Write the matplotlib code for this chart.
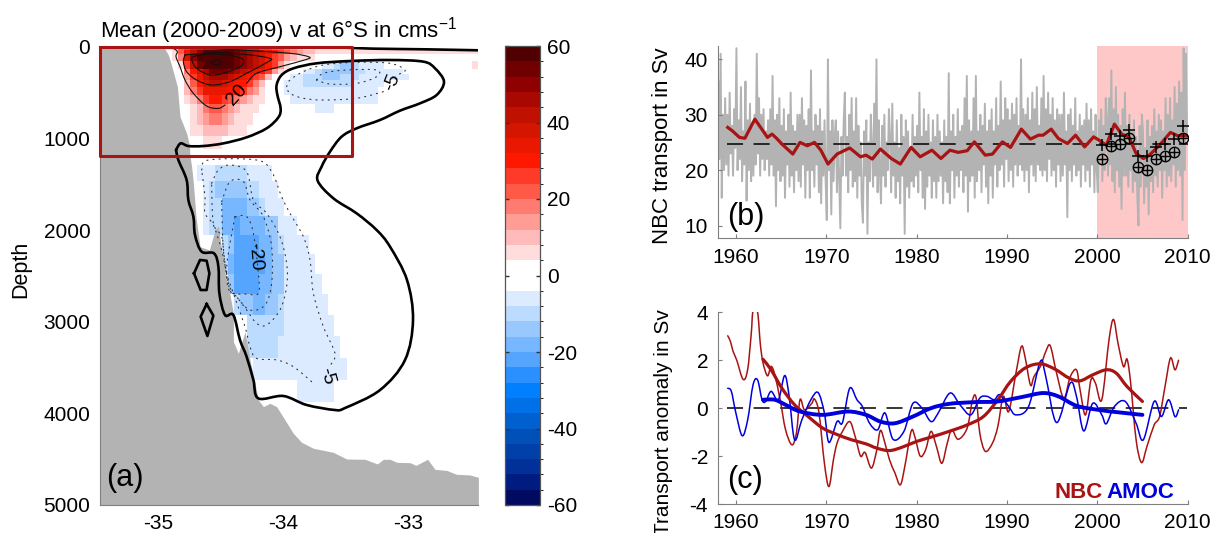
import numpy as np
import matplotlib
matplotlib.use('Agg')
import matplotlib.pyplot as plt
from matplotlib.colors import ListedColormap, BoundaryNorm
from matplotlib.path import Path
from matplotlib.patches import PathPatch

plt.rcParams['font.family'] = ['Liberation Sans', 'DejaVu Sans']
plt.rcParams['mathtext.fontset'] = 'custom'
plt.rcParams['mathtext.rm'] = 'Liberation Sans'
plt.rcParams['mathtext.default'] = 'regular'
plt.rcParams['font.size'] = 15
plt.rcParams['axes.unicode_minus'] = False

W, H = 1215, 533
RED = '#a81414'
BLUE = '#0000dd'
GRAY = '#b3b3b3'
SPINE = '#7f7f7f'

# ---- panel a: section, 1/20 degree columns, model depth levels
lon_start = -34.945
lon_step = 0.05
n_cols = 52
depth_edges = [0, 35, 80, 150, 245, 300, 365, 440, 520, 620, 725, 850, 975, 1115, 1290, 1460, 1645,
               1840, 2050, 2260, 2480, 2700, 2930, 3160, 3400, 3640, 3880]

# (row, first column, values)
red_rows = [
    (0, 0, [6, 10, 20, 26, 30, 34, 38, 38, 38, 38, 36, 34, 34, 30, 30, 26, 26, 22, 20, 18, 14, 10, 6, 6, 6, 6, 6, 6, 6, 6]),
    (1, 1, [6, 22, 34, 42, 50, 56, 58, 58, 58, 56, 52, 50, 46, 42, 38, 34, 30, 26, 22, 18, 14, 10, 10] + [6] * 26),
    (2, 1, [6, 18, 38, 50, 58, 58, 58, 58, 58, 58, 54, 50, 46, 42, 36, 30, 26, 22, 14, 10, 6, 6, 6]),
    (3, 2, [6, 26, 42, 52, 58, 58, 58, 58, 58, 54, 50, 46, 42, 38, 30, 24, 14, 6]),
    (4, 3, [18, 30, 38, 46, 52, 54, 54, 50, 46, 42, 38, 34, 30, 26, 14, 6]),
    (5, 3, [14, 26, 34, 40, 46, 46, 44, 40, 36, 32, 30, 26, 22, 10]),
    (6, 3, [10, 22, 30, 36, 40, 40, 38, 34, 30, 28, 26, 18, 10]),
    (7, 3, [10, 18, 26, 32, 34, 34, 32, 30, 28, 24, 18, 14, 6]),
    (8, 3, [6, 10, 18, 26, 30, 30, 26, 22, 18, 14, 10, 6, 6]),
    (9, 4, [6, 10, 16, 22, 22, 18, 14, 10, 6, 6, 6]),
    (10, 4, [6, 10, 14, 18, 18, 14, 10, 6, 6, 6]),
    (11, 4, [6, 6, 10, 10, 10, 10, 6, 6, 6]),
    (12, 6, [6, 6, 6]),
    (3, 49, [6]),
]
blue_rows = [
    (3, 25, [-6, -6, -10, -14, -14, -10, -6, -6, -6, -6]),
    (4, 22, [-6, -6, -10, -14, -14, -14, -14, -14, -10, -10, -6, -6, -6, -6, -6, -6]),
    (5, 20, [-6, -6, -10, -10, -10, -14, -14, -14, -10, -10, -10, -6, -6, -6, -6, -6, -6, -6, -6]),
    (6, 19, [-6, -6, -6, -10, -10, -10, -10, -10, -10, -10, -10, -6, -6, -6, -6, -6]),
    (7, 19, [-6] * 15),
    (8, 20, [-6] * 14),
    (9, 24, [-6, -6, -6]),
    (14, 5, [-6, -6, -6, -10, -10, -10, -10, -10, -6, -6, -6, -6]),
    (15, 6, [-6, -10, -14, -14, -14, -14, -14, -10, -10, -6, -6, -6]),
    (16, 6, [-6, -10, -10, -18, -18, -18, -18, -14, -14, -10, -6, -6, -6]),
    (17, 6, [-6, -10, -10, -18, -18, -22, -18, -18, -18, -18, -14, -14, -6, -6, -6]),
    (18, 9, [-10, -14, -22, -22, -22, -22, -18, -18, -14, -10, -6, -6, -6, -6]),
    (19, 9, [-10, -18, -22, -22, -22, -22, -22, -18, -14, -14, -6, -6, -6, -6, -6]),
    (20, 10, [-14, -22, -22, -22, -22, -18, -18, -14, -14, -6, -6, -6, -6, -6, -6]),
    (21, 11, [-10, -14, -14, -18, -18, -14, -14, -10, -6, -6, -6, -6, -6, -6, -6]),
    (22, 13, [-10, -10, -10, -10, -10, -10, -6, -6, -6, -6, -6, -6, -6, -6]),
    (23, 13, [-10, -10, -10, -10, -10, -6, -6, -6, -6, -6, -6, -6, -6, -6, -6]),
    (24, 14, [-6] * 15),
    (25, 21, [-6] * 6),
]
level_colors = ['#000a60', '#001c80', '#003098', '#0040a8', '#0050b8', '#0060d0', '#0070e8', '#007fff',
                '#2a90ff', '#55a5ff', '#77b7ff', '#99c8ff', '#bbdbff', '#dcebff', '#ffffff',
                '#ffffff', '#ffdddd', '#ffbbbb', '#ff9c94', '#ff7a70', '#ff5a48', '#ff3a28', '#ff1800',
                '#ea1800', '#d41500', '#c01000', '#a80800', '#8f0000', '#700000', '#500000']

# bottom topography
bathy_lon = [-34.956, -34.921, -34.9, -34.849, -34.828, -34.775, -34.753, -34.748, -34.735, -34.721, -34.7, -34.668,
             -34.593, -34.548, -34.521, -34.495, -34.468, -34.428, -34.401, -34.401, -34.361, -34.308, -34.268, -34.228,
             -34.201, -34.161, -34.108, -34.055, -33.988, -33.921, -33.855, -33.761, -33.601, -33.495, -33.348, -33.249,
             -33.201, -33.148, -33.095, -32.988, -32.94, -32.847, -32.788, -32.695, -32.615, -32.508, -32.441]
bathy_depth = [4, 87, 178, 433, 760, 942, 1070, 1190, 1306, 1488, 1852, 2180, 2216, 1998, 1954, 2216, 2471, 2707, 2908,
               3217, 3344, 3108, 3417, 3672, 3854, 3926, 3890, 3926, 4072, 4218, 4316, 4381, 4425, 4498, 4501, 4552,
               4501, 4501, 4534, 4538, 4567, 4501, 4611, 4622, 4665, 4672, 4698]

# zero contour
zero_lon = [-34.86, -34.823, -34.761, -34.641, -34.481, -34.295, -34.135, -34.041, -34.023, -34.049, -34.055, -34.015,
            -33.921, -33.735, -33.468, -33.148, -32.881, -32.788, -32.716, -32.775, -32.908, -33.068, -33.228, -33.415,
            -33.535, -33.628, -33.695, -33.727, -33.601, -33.415, -33.255, -33.148, -33.012, -32.964, -33.028, -33.228,
            -33.508, -33.588, -33.815, -34.001, -34.201, -34.241, -34.295, -34.348, -34.401, -34.468, -34.513, -34.521,
            -34.556, -34.655, -34.708, -34.721, -34.761, -34.775, -34.841, -34.86]
zero_depth = [1124, 1052, 1081, 1081, 1052, 986, 888, 768, 670, 524, 415, 306, 233, 178, 153, 142, 160, 233, 378, 524,
              615, 695, 797, 888, 979, 1143, 1306, 1459, 1652, 1816, 1998, 2180, 2544, 2980, 3417, 3745, 3941, 3963,
              3908, 3810, 3836, 3635, 3381, 3199, 2926, 2926, 2689, 2398, 2253, 2234, 2052, 1852, 1670, 1452, 1234, 1124]
surface_lon = [-32.441, -32.881, -33.281, -33.681, -34.881]
surface_depth = [36, 25, 18, 4, 4]
island1_lon = [-34.716, -34.668, -34.615, -34.593, -34.615, -34.663, -34.716]
island1_depth = [2471, 2325, 2333, 2471, 2653, 2653, 2471]
island2_lon = [-34.615, -34.561, -34.609, -34.663, -34.615]
island2_depth = [2806, 2933, 3155, 2944, 2806]

# positive contours, 20 / 30 / 40 / 50
c20a_lon = [-34.881, -34.849, -34.86, -34.828, -34.788, -34.721, -34.615, -34.521, -34.468]
c20a_depth = [14, 51, 106, 215, 360, 506, 644, 670, 633]
c20b_lon = [-34.295, -34.215, -34.028, -33.815, -33.801, -33.948, -34.348, -34.748, -34.881]
c20b_depth = [397, 287, 215, 135, 106, 69, 33, 7, 14]
c30_lon = [-34.788, -34.801, -34.775, -34.695, -34.575, -34.428, -34.295, -34.121, -34.108, -34.268, -34.535, -34.788]
c30_depth = [87, 160, 269, 360, 415, 378, 287, 160, 124, 87, 62, 87]
c40_lon = [-34.735, -34.695, -34.588, -34.481, -34.348, -34.321, -34.401, -34.588, -34.721, -34.735]
c40_depth = [142, 233, 306, 287, 215, 142, 98, 76, 106, 142]
c50_lon = [-34.583, -34.54, -34.495, -34.54, -34.583]
c50_depth = [167, 142, 167, 196, 167]

# negative contours, dotted
m5up_lon = [-33.975, -33.948, -33.841, -33.681, -33.415, -33.148, -33.028, -33.081]
m5up_depth = [433, 360, 269, 196, 167, 178, 251, 300]
m5up2_lon = [-33.201, -33.415, -33.681, -33.841, -33.948, -33.975]
m5up2_depth = [488, 560, 579, 560, 506, 433]
m10up_lon = [-33.735, -33.681, -33.495, -33.255, -33.255, -33.415, -33.628, -33.735]
m10up_depth = [360, 287, 251, 251, 324, 397, 404, 360]
m5low_lon = [-34.655, -34.601, -34.215, -34.095, -34.015, -33.948, -33.841, -33.788, -33.761, -33.681, -33.588, -33.623]
m5low_depth = [1343, 1234, 1234, 1361, 1634, 1816, 2071, 2325, 2689, 3053, 3344, 3470]
m5low2_lon = [-33.775, -33.921, -34.055, -34.215, -34.268, -34.308, -34.401, -34.455, -34.495, -34.561, -34.628, -34.628, -34.655]
m5low2_depth = [3654, 3490, 3417, 3399, 3272, 3053, 2689, 2471, 2216, 1943, 1816, 1634, 1343]
m10low_lon = [-34.575, -34.521, -34.428, -34.295, -34.241, -34.135, -34.028, -33.975, -33.975, -34.028, -34.135, -34.215,
              -34.295, -34.375, -34.428, -34.468, -34.495, -34.561, -34.575]
m10low_depth = [1488, 1343, 1288, 1361, 1670, 1816, 2071, 2362, 2616, 2871, 3035, 3017, 2871, 2726, 2653, 2362, 2071, 1925, 1488]
m15low_lon = [-34.495, -34.428, -34.321, -34.268, -34.161, -34.095, -34.095, -34.148, -34.268, -34.375, -34.441, -34.481, -34.495]
m15low_depth = [1689, 1470, 1470, 1670, 1852, 2180, 2580, 2817, 2871, 2726, 2580, 2216, 1689]
m20low_lon = [-34.388, -34.295, -34.241, -34.201, -34.201, -34.295, -34.428, -34.455, -34.428, -34.388]
m20low_depth = [1852, 1852, 2034, 2471, 2689, 2697, 2671, 2435, 2143, 1852]

# ---- panel b: eight readings per year, 1958-2009
nbc_raw = [
    36, 22, 41, 15, 30, 20, 33, 21,
    30, 19, 34, 23, 28, 19, 31, 24,
    42, 20, 29, 22, 35, 18, 27, 21,
    36, 14.5, 29, 20, 32, 18, 28, 19,
    30, 21, 41, 23, 33, 19, 30, 22,
    31, 20, 27, 22, 29, 19, 31, 21,
    37, 19, 29, 13.5, 30, 20, 33, 18,
    28, 19, 31, 15, 27, 21, 30, 17,
    34, 19, 28, 16, 27, 20, 30, 18,
    30, 17, 33, 21, 29, 15, 28, 20,
    31, 15, 38, 20, 27, 17, 30, 21,
    28, 16, 31, 14, 27, 19, 29, 18,
    11, 40, 20, 27, 12, 29, 18, 26,
    29, 16, 27, 18, 9.5, 26, 19, 29,
    34, 19, 26, 16, 30, 20, 33, 17,
    27, 18, 33, 15, 28, 19, 25, 14,
    10.5, 27, 19, 29, 8.5, 25, 18, 30,
    24, 17, 32, 19, 40, 16, 29, 20,
    14, 28, 19, 30, 17, 25, 20, 31,
    26, 16, 32, 19, 25, 15, 29, 18,
    24, 14, 30, 19, 26, 8.5, 29, 17,
    27, 15, 24, 18, 30, 17, 26, 19,
    28, 16, 34, 20, 26, 15, 31, 13,
    27, 17, 30, 19, 25, 15, 29, 18,
    26, 15, 30, 18, 27, 19, 25, 14,
    29, 18, 26, 16, 37.5, 14, 27, 20,
    30, 15, 26, 19, 31, 17, 27, 20,
    28, 16, 33, 19, 37, 12.5, 29, 18,
    27, 19, 33, 15, 37, 18, 27, 20,
    30, 16, 28, 21, 32, 17, 27, 14,
    29, 19, 31, 15, 27, 21, 33, 17,
    28, 20, 36, 21, 29, 17, 33, 22,
    31, 18, 29, 20, 32, 17, 30, 21,
    33, 19, 28, 21, 40, 20, 31, 18,
    30, 20, 33, 16, 29, 21, 34, 19,
    31, 18, 35, 21, 28, 20, 33, 19,
    37, 20, 31, 18, 34, 22, 30, 19,
    33, 20, 29, 17, 31, 21, 30, 18,
    30, 19, 34, 21, 27, 11.5, 30, 20,
    31, 18, 28, 21, 33, 19, 27, 20,
    30, 17, 28, 21, 29, 18, 32, 20,
    29, 17, 31, 21, 27, 16, 30, 20,
    16, 29, 21, 31, 18, 28, 20, 33,
    29, 19, 33, 21, 38, 18, 31, 16,
    35, 20, 30, 17, 28, 13, 31, 19,
    34, 19, 28, 17, 30, 20, 27, 16,
    29, 18, 26, 15, 10, 28, 17, 30,
    27, 14, 24, 17, 29, 12, 26, 18,
    28, 16, 31, 19, 27, 17, 30, 20,
    29, 15, 27, 20, 33, 17, 30, 19,
    33, 18, 29, 21, 35, 17, 32, 20,
    36, 19, 34, 11, 42, 20, 41, 26,
]
raw_years = np.arange(1958, 2010, 0.125) + 0.0625

smooth_years = [1959.1, 1959.6, 1960.4, 1961, 1962.1, 1963.5, 1964, 1964.5, 1965.1, 1966.3, 1967.1, 1967.9, 1968.7, 1969.4,
                1970.2, 1971.2, 1972.6, 1973.8, 1974.4, 1975.1, 1976, 1977.2, 1978.2, 1979.4, 1980.4, 1981.7, 1982.7, 1983.7,
                1984.6, 1985.6, 1986.4, 1987.6, 1988.4, 1989.5, 1990.4, 1991.6, 1992.6, 1993.5, 1994, 1994.9, 1995.7, 1996.7,
                1997.6, 1998.6, 1999.6, 2000.2, 2001, 2001.9, 2002.7, 2003.5, 2004.3, 2005.1, 2005.7, 2006.9, 2008.1, 2008.9, 2010]
smooth_nbc = [27.7, 27.1, 25.9, 25.75, 29.2, 25.9, 26.5, 25.75, 24.7, 22.9, 25, 24.4, 25, 23.6,
              21.1, 22.9, 24, 22.4, 22.7, 22, 23.8, 22.1, 21.1, 24.1, 22.4, 23.6, 22.1, 23.6,
              23.2, 23.5, 25.1, 22.7, 22.9, 25.1, 24.1, 27.4, 25.6, 26.3, 26.3, 27.4, 25.7, 24.8,
              26.3, 24.2, 26, 25.4, 24.5, 28.3, 26.5, 26, 23, 22.1, 22.6, 24.5, 26.8, 26.2, 26.2]
nbc_mean = 24.7

cruise_years = [2000.5, 2001.5, 2002.5, 2003.5, 2004.5, 2005.5, 2006.5, 2007.5, 2008.5, 2009.5]
nbc_circle = [21.96, 24.4, 24.7, 25.75, 20.5, 20, 22, 22.6, 23.3, 25.75]
nbc_plus = [24.55, 26.5, 26.2, 27.25, 22.6, 22.6, 24.1, 24.7, 25.6, 28]

# ---- panel c: anomalies
nbc_yr = [1959.1, 1959.4, 1959.7, 1960.1, 1960.8, 1961.3, 1961.7, 1961.9, 1962.4, 1962.7, 1963, 1963.5, 1963.9, 1964.3, 1964.9,
          1965.5, 1966.2, 1966.7, 1967.1, 1967.6, 1968.4, 1968.7, 1969.2, 1969.8, 1970.3, 1970.8, 1971.2, 1971.8, 1972.6, 1973.2,
          1973.8, 1974.3, 1975, 1975.6, 1976, 1976.5, 1977, 1977.6, 1978.2, 1978.7, 1979.4, 1979.8, 1980.4, 1981, 1981.6, 1982.2,
          1982.8, 1983.4, 1983.9, 1984.6, 1985.6, 1986.2, 1986.6, 1987, 1987.6, 1988.4, 1989, 1989.6, 1990.2, 1991, 1991.6, 1992,
          1992.6, 1993, 1993.7, 1994.3, 1994.8, 1995.5, 1996.3, 1997, 1997.7, 1998.1, 1998.7, 1999.3, 1999.8, 2000.5, 2001.3, 2001.8,
          2002.3, 2002.9, 2003.3, 2003.7, 2004.3, 2004.9, 2005.5, 2006.3, 2006.9, 2007.5, 2008.1, 2008.6, 2009]
nbc_anom = [3.02, 2.78, 2.36, 2.0, 1.2, 1.6, 3.1, 4.05, 4.0, 2.7, 1.9, 1.35, 1.74, 1.4, 0.35,
            -0.9, -1.53, -1.04, 0.35, -0.07, 0.2, 0.38, -0.2, -2.3, -3.27, -2.15, -1.46, -0.97, -0.56, -1.18,
            -2.0, -1.85, -2.5, -1.74, -0.93, -1.46, -2.15, -2.7, -3.2, -2.43, -0.97, -1.18, -2, -1.74, -0.97, -1.6,
            -2.3, -1.46, -0.9, -1.3, -0.83, 0.35, 0.42, -1.04, -1.8, -1.46, -0.76, 0.49, -0.14, 1.46, 2.57, 2.15,
            0.97, 1.32, 1.74, 2.36, 2.6, 1.46, 0.42, 1.3, 1.6, 0.76, -0.28, 1.18, 1.04, 0.35, 2.85, 3.7,
            2.7, 1.74, 2.04, 1.04, -1.32, -2.27, -1.6, -0.7, -0.35, 0.9, 2.09, 1.6, 2.0]

amoc_yr = [1959.1, 1959.5, 1960, 1960.7, 1961.3, 1961.9, 1962.4, 1962.9, 1963.3, 1963.9, 1964.7, 1965.4, 1965.9, 1966.5, 1967.3,
           1968.3, 1969.1, 1969.8, 1970.3, 1971.2, 1971.8, 1972.6, 1973.4, 1974, 1974.8, 1975.7, 1976.5, 1977.4, 1978.6, 1979.6,
           1980.6, 1981.6, 1982.4, 1983.7, 1984.8, 1986, 1987, 1987.8, 1988.6, 1989.2, 1990.2, 1991, 1992.4, 1993.7, 1994.3, 1995.5,
           1997, 1997.7, 1998.5, 1999.5, 2000.5, 2001, 2001.9, 2003.1, 2004.3, 2005.1, 2006.3, 2007.1, 2007.9, 2008.6, 2009]
amoc_anom = [0.83, 0.7, -0.2, -1.15, -0.5, 0.97, 1.18, 0.35, 0.28, 0.7, 0.35, 1.36, 0.49, -1.32, -0.49,
             0.35, 0.65, -0.2, -1.43, -0.56, -0.6, 0.83, 0.35, 0.07, -0.63, -0.9, -0.2, -1.3, -0.97, 0.2,
             0, -0.56, -0.2, 0.63, 0.14, -0.28, 0.42, 0.49, 0.35, 0.56, 0.07, -0.28, 0.07, 1.95, 1.32, -0.6,
             1.04, 0.49, -0.95, 0.2, -0.28, -0.65, 0.07, 0.28, -0.63, -1.32, 0.28, -0.35, 0.35, -0.35, -0.07]

nbc_slow_yr = [1963, 1963.9, 1965.1, 1966.5, 1968, 1969.6, 1971.2, 1972.8, 1974.4, 1975.6, 1977, 1978.4, 1980, 1981.6, 1983.6,
               1985.6, 1987.4, 1989, 1990.4, 1992, 1993.7, 1995.3, 1996.9, 1998.1, 1999.5, 2001, 2002.1, 2003.3, 2005]
nbc_slow = [2.04, 1.6, 0.83, 0.14, -0.35, -0.83, -1.1, -1.32, -1.49, -1.67, -1.77, -1.63, -1.39, -1.21, -0.97,
            -0.7, -0.35, 0.35, 1.11, 1.67, 1.85, 1.63, 1.25, 1.14, 1.39, 1.6, 1.46, 0.9, 0.28]
amoc_slow_yr = [1963, 1964.3, 1965.5, 1967.1, 1969.6, 1972.4, 1974.4, 1976, 1977.6, 1979.6, 1981.6, 1983.6, 1986.4, 1989,
                1991.6, 1994, 1995.7, 1997.7, 2000.1, 2002.5, 2005]
amoc_slow = [0.35, 0.35, 0.14, -0.14, -0.28, -0.14, -0.28, -0.56, -0.63, -0.35, 0, 0.18, 0.25, 0.28,
             0.46, 0.63, 0.49, 0.1, -0.07, -0.18, -0.28]


def add_axes_px(fig, left, top, right, bottom):
    return fig.add_axes([left / W, 1 - bottom / H, (right - left) / W, (bottom - top) / H])


def clean_spines(ax):
    ax.spines['top'].set_visible(False)
    ax.spines['right'].set_visible(False)
    ax.spines['left'].set_color(SPINE)
    ax.spines['bottom'].set_color(SPINE)


def curve(ax, x, y, **kw):
    # bezier through the read points, so the filtered lines are not angular
    p = np.column_stack([x, y])
    q = np.vstack([p[0], p, p[-1]])
    verts = [p[0]]
    for i in range(1, len(q) - 2):
        verts += [q[i] + (q[i + 1] - q[i - 1]) / 6, q[i + 1] - (q[i + 2] - q[i]) / 6, q[i + 1]]
    codes = [Path.MOVETO] + [Path.CURVE4] * (len(verts) - 1)
    ax.add_patch(PathPatch(Path(verts, codes), fill=False, capstyle='round', **kw))


fig = plt.figure(figsize=(W / 100, H / 100), dpi=100)

# panel a
ax = add_axes_px(fig, 100, 47, 478, 505)
field = np.full((len(depth_edges) - 1, n_cols), np.nan)
for row, first, vals in red_rows + blue_rows:
    field[row, first:first + len(vals)] = vals
lon_edges = lon_start + lon_step * np.arange(n_cols + 1)
cmap = ListedColormap(level_colors)
norm = BoundaryNorm(np.arange(-60, 61, 4), cmap.N)
mesh = ax.pcolormesh(lon_edges, depth_edges, field, cmap=cmap, norm=norm, zorder=1)
ax.fill_between([-35.468] + bathy_lon, [0] + bathy_depth, 5000, color=GRAY, lw=0, zorder=2)
ax.fill_between([-35.468, -34.956], 0, 5000, color=GRAY, lw=0, zorder=2)

for x, y in [(m5up_lon, m5up_depth), (m5up2_lon, m5up2_depth), (m10up_lon, m10up_depth), (m5low_lon, m5low_depth),
             (m5low2_lon, m5low2_depth), (m10low_lon, m10low_depth), (m15low_lon, m15low_depth), (m20low_lon, m20low_depth)]:
    curve(ax, x, y, edgecolor='#333333', lw=0.8, ls=(0, (1, 4.5)), zorder=3)
for x, y in [(c20a_lon, c20a_depth), (c20b_lon, c20b_depth), (c30_lon, c30_depth), (c40_lon, c40_depth), (c50_lon, c50_depth)]:
    curve(ax, x, y, edgecolor='#111111', lw=0.8, zorder=3)
curve(ax, zero_lon, zero_depth, edgecolor='k', lw=1.9, zorder=4)
curve(ax, surface_lon, surface_depth, edgecolor='k', lw=1.9, zorder=4)
for x, y in [(island1_lon, island1_depth), (island2_lon, island2_depth)]:
    ax.plot(x, y, color='k', lw=1.9, zorder=4, solid_joinstyle='round')

ax.text(-34.375, 524, '20', rotation=48, ha='center', va='center', fontsize=14, zorder=5)
ax.text(-34.228, 2289, '-20', rotation=-85, ha='center', va='center', fontsize=14, zorder=5)
ax.text(-33.655, 3592, '-5', rotation=-75, ha='center', va='center', fontsize=14, zorder=5)
ax.text(-33.127, 389, '-5', rotation=68, ha='center', va='center', fontsize=14, zorder=5)

box_x = [-35.468, -33.449, -33.449, -35.468, -35.468]
box_y = [0, 0, 1190, 1190, 0]
ax.plot(box_x, box_y, color=RED, lw=2.2, clip_on=False, zorder=6)

ax.set_xlim(-35.468, -32.444)
ax.set_ylim(5000, 0)
ax.set_xticks([-35, -34, -33])
ax.set_yticks([0, 1000, 2000, 3000, 4000, 5000])
ax.tick_params(length=0, pad=7, labelsize=15)
ax.tick_params(axis='x', pad=6.5)
clean_spines(ax)
ax.set_ylabel('Depth', fontsize=15.5)
ax.yaxis.set_label_coords(-0.183, 0.515)
ax.text(0, 1.02, r'Mean (2000-2009) v at 6°S in cms$^{-1}$', transform=ax.transAxes, fontsize=16, ha='left', va='baseline')
ax.text(-35.42, 4700, '(a)', fontsize=22, va='center', ha='left', zorder=5)

# colorbar
cax = add_axes_px(fig, 504.5, 46, 540, 505)
cb = fig.colorbar(mesh, cax=cax, ticks=[-60, -40, -20, 0, 20, 40, 60], spacing='proportional')
cb.ax.tick_params(direction='in', length=3, width=1, color='#333333', left=True, right=True, labelsize=15, pad=5)
cb.outline.set_edgecolor('#555555')
cb.outline.set_linewidth(0.9)

# panel b
axb = add_axes_px(fig, 717.8, 46, 1187.6, 238)
axb.axvspan(2000, 2010, color='#ffc8c8', lw=0, zorder=0)
axb.plot(raw_years, nbc_raw, color=GRAY, lw=1.4, zorder=1)
axb.plot([1959, 2010], [nbc_mean, nbc_mean], color='k', lw=1.1, ls=(0, (10.5, 6.9)), zorder=2)
axb.plot(smooth_years, smooth_nbc, color=RED, lw=2.3, zorder=3)
axb.plot(cruise_years, nbc_plus, '+', color='k', ms=9, mew=1.1, zorder=4)
axb.plot(cruise_years, nbc_circle, 'o', mfc='none', mec='k', ms=7.5, mew=1.0, zorder=4)
axb.plot(cruise_years, nbc_circle, '+', color='k', ms=7.5, mew=1.0, zorder=4)
axb.set_xlim(1958, 2010)
axb.set_ylim(7.75, 42.4)
axb.set_xticks([1960, 1970, 1980, 1990, 2000, 2010])
axb.set_yticks([10, 20, 30, 40])
axb.tick_params(direction='in', length=3, color=SPINE, labelsize=15, pad=7)
axb.tick_params(axis='x', pad=7.5)
clean_spines(axb)
axb.set_ylabel('NBC transport in Sv', fontsize=16)
axb.yaxis.set_label_coords(-0.095, 0.48)
axb.text(1959, 11.5, '(b)', fontsize=22, va='center', ha='left', zorder=5)

# panel c
axc = add_axes_px(fig, 717.8, 312.3, 1187.6, 504)
axc.plot([1959, 2009.9], [0, 0], color='k', lw=1.1, ls=(0, (10.5, 6.9)), zorder=1)
curve(axc, nbc_yr, nbc_anom, edgecolor=RED, lw=1.1, zorder=2)
curve(axc, amoc_yr, amoc_anom, edgecolor=BLUE, lw=1.1, zorder=2)
curve(axc, nbc_slow_yr, nbc_slow, edgecolor=RED, lw=2.3, zorder=3)
curve(axc, amoc_slow_yr, amoc_slow, edgecolor=BLUE, lw=2.8, zorder=4)
axc.set_xlim(1958, 2010)
axc.set_ylim(-4, 4)
axc.set_xticks([1960, 1970, 1980, 1990, 2000, 2010])
axc.set_yticks([-4, -2, 0, 2, 4])
axc.tick_params(direction='in', length=3, color=SPINE, labelsize=15, pad=7)
axc.tick_params(axis='x', pad=6.5)
clean_spines(axc)
axc.set_ylabel('Transport anomaly in Sv', fontsize=15)
axc.yaxis.set_label_coords(-0.095, 0.43)
axc.text(1959, -3.0, '(c)', fontsize=22, va='center', ha='left', zorder=5)
axc.text(1997.9, -3.53, 'NBC', color=RED, fontsize=16, fontweight='bold', ha='center', va='center')
axc.text(2004.8, -3.53, 'AMOC', color=BLUE, fontsize=16, fontweight='bold', ha='center', va='center')

fig.savefig('out.png', dpi=100)
